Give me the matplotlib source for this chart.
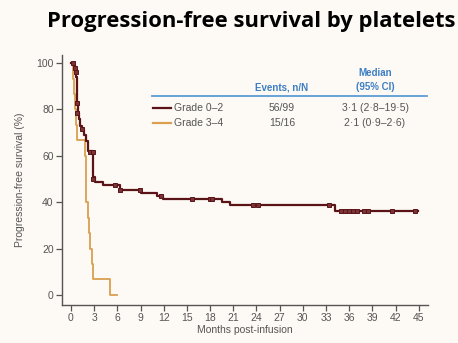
import matplotlib
matplotlib.use("Agg")
import matplotlib.pyplot as plt
from matplotlib.lines import Line2D

# Kaplan-Meier step points (months, % progression-free)
g02_months = [0, 0.3, 0.5, 0.7, 0.8, 0.85, 1.0, 1.2, 1.4, 1.7, 2.0, 2.2, 2.9, 3.05,
              4.2, 6.3, 9.1, 11.1, 11.9, 19.5, 20.6, 34.2, 44.9]
g02_pfs = [100, 99, 97, 94, 83, 78.5, 76, 73, 71, 69, 66.5, 62, 51, 48.8,
           47.4, 45.3, 43.8, 42.5, 41.3, 40.2, 38.8, 36.3, 36.3]
g02_cens_months = [0.3, 0.5, 0.7, 0.82, 0.82, 1.4, 2.4, 2.85, 2.9, 5.7, 6.3, 8.9,
                   11.7, 15.6, 18.0, 18.3, 23.5, 24.2, 33.4, 35.0, 35.5, 36.0,
                   36.5, 37.0, 37.9, 38.4, 41.5, 44.5]
g02_cens_pfs = [100, 98, 96, 82.6, 78.4, 71.5, 61.8, 61.8, 50, 47.4, 45.3, 45.3,
                42.5, 41.3, 41.3, 41.3, 38.8, 38.8, 38.8, 36.3, 36.3, 36.3,
                36.3, 36.3, 36.3, 36.3, 36.3, 36.3]

g34_months = [0, 0.3, 0.45, 0.55, 0.65, 0.8, 1.8, 1.9, 1.95, 2.0, 2.25, 2.35,
              2.46, 2.7, 2.9, 5.0, 5.9]
g34_pfs = [100, 93.3, 86.7, 80, 73.3, 66.7, 60, 53.3, 46.7, 40, 33.3, 26.7,
           20, 13.3, 6.7, 0, 0]

x_ticks = list(range(0, 46, 3))
y_ticks = [0, 20, 40, 60, 80, 100]

groups = ["Grade 0\u20132", "Grade 3\u20134"]
events = ["56/99", "15/16"]
medians = ["3\u00b71 (2\u00b78\u201319\u00b75)", "2\u00b71 (0\u00b79\u20132\u00b76)"]

MAROON = "#5a1418"
GOLD = "#d9a050"
BLUE = "#5b9bd5"
BLUE_TXT = "#3d7fc4"
GREY = "#555555"
BG = "#fdf9f5"

W, H = 458, 343


def fpos(x, y):
    # pixel position -> figure fraction
    return x / W, 1 - y / H


plt.rcParams["font.family"] = ["Liberation Sans", "DejaVu Sans"]

fig = plt.figure(figsize=(4.58, 3.43), dpi=100, facecolor=BG)
ax = fig.add_axes([62 / W, 38 / H, (428 - 62) / W, (305 - 55) / H])
ax.set_facecolor(BG)

ax.step(g34_months, g34_pfs, where="post", color=GOLD, linewidth=1.3, zorder=2)
ax.step(g02_months, g02_pfs, where="post", color=MAROON, linewidth=1.6, zorder=3)
ax.plot(g02_cens_months, g02_cens_pfs, linestyle="none", marker="s", markersize=3,
        markerfacecolor="#7a3437", markeredgecolor=MAROON, markeredgewidth=0.7, zorder=4)

ax.set_xlim(-1.16, 46.2)
ax.set_ylim(-4.3, 103.5)
ax.set_xticks(x_ticks)
ax.set_yticks(y_ticks)
ax.tick_params(colors=GREY, labelsize=7.5, length=4, width=0.9, pad=2)
for s in ["top", "right"]:
    ax.spines[s].set_visible(False)
for s in ["left", "bottom"]:
    ax.spines[s].set_color(GREY)
    ax.spines[s].set_linewidth(1.0)

ax.set_xlabel("Months post-infusion", color=GREY, fontsize=7.5, labelpad=1)
ax.set_ylabel("Progression-free survival (%)", color=GREY, fontsize=7.5, labelpad=8)

# title
fig.text(*fpos(251, 22), "Progression-free survival by platelets",
         ha="center", va="center", fontsize=15.8, fontweight="bold",
         family=["Open Sans", "DejaVu Sans"], color="black")

# legend table
fig.text(*fpos(282, 87), "Events, n/N", ha="center", va="center",
         fontsize=7, fontweight="bold", color=BLUE_TXT)
fig.text(*fpos(375, 73), "Median", ha="center", va="center",
         fontsize=7, fontweight="bold", color=BLUE_TXT)
fig.text(*fpos(375, 87), "(95% CI)", ha="center", va="center",
         fontsize=7, fontweight="bold", color=BLUE_TXT)
fig.add_artist(Line2D([152 / W, 427 / W], [1 - 96 / H, 1 - 96 / H],
                      color=BLUE, linewidth=1.3))

for i, (name, ev, med, col) in enumerate(zip(groups, events, medians, [MAROON, GOLD])):
    y = 108 + i * 15.5
    fig.add_artist(Line2D([153 / W, 171 / W], [1 - y / H, 1 - y / H],
                          color=col, linewidth=1.6))
    fig.text(*fpos(174, y), name, ha="left", va="center", fontsize=7.5, color=GREY)
    fig.text(*fpos(282, y), ev, ha="center", va="center", fontsize=7.5, color=GREY)
    fig.text(*fpos(375, y), med, ha="center", va="center", fontsize=7.5, color=GREY)

fig.savefig("out.png", dpi=100, facecolor=BG)
